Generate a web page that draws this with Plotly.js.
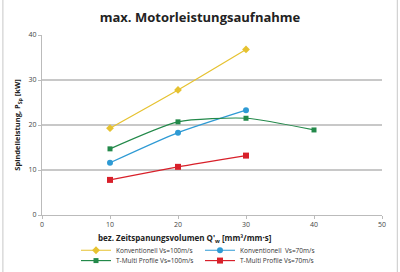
<!DOCTYPE html>
<html>
<head>
<meta charset="utf-8">
<script src="https://cdn.plot.ly/plotly-3.0.1.min.js"></script>
<style>
  html, body { margin: 0; padding: 0; background: #fff; }
  #chart { width: 400px; height: 272px; }
</style>
</head>
<body>
<div id="chart"></div>
<script>
// Specific material removal rate Q'w [mm³/mm·s]
const qw = [10, 20, 30];
const qwTMulti100 = [10, 20, 30, 40];

// Maximum spindle power [kW]
const konv100 = [19.3, 27.8, 36.8];
const konv70 = [11.6, 18.3, 23.3];
const tmulti100 = [14.7, 20.7, 21.5, 18.9];
const tmulti70 = [7.8, 10.7, 13.2];

const names = [
  'Konventionell Vs=100m/s',
  'Konventionell  Vs=70m/s',
  'T-Multi Profile Vs=100m/s',
  'T-Multi Profile Vs=70m/s'
];

const xTicks = [0, 10, 20, 30, 40, 50];
const yTicks = [0, 10, 20, 30, 40];

const font = 'Open Sans, Liberation Sans, sans-serif';

function series(x, y, name, color, symbol, size, legend) {
  return {
    x: x, y: y, name: name, type: 'scatter', mode: 'lines+markers',
    legend: legend,
    line: { color: color, width: 1.2, shape: 'spline', smoothing: 0.6 },
    marker: { color: color, symbol: symbol, size: size }
  };
}

const data = [
  series(qw, konv100, names[0], '#E6C230', 'diamond', 6, 'legend'),
  series(qw, konv70, names[1], '#2E9AD4', 'circle', 6, 'legend'),
  series(qwTMulti100, tmulti100, names[2], '#23894A', 'square', 5, 'legend2'),
  series(qw, tmulti70, names[3], '#D8202A', 'square', 6, 'legend2')
];

function legendRow(y) {
  return {
    orientation: 'h', xref: 'container', yref: 'container',
    x: 0.19, xanchor: 'left', y: y, yanchor: 'middle',
    entrywidth: 79, entrywidthmode: 'pixels', itemwidth: 30,
    font: { size: 6.5, color: '#333' }, bgcolor: 'rgba(0,0,0,0)'
  };
}

const layout = {
  width: 400, height: 272,
  margin: { l: 42, r: 18, t: 35, b: 57 },
  paper_bgcolor: '#fff', plot_bgcolor: '#fff',
  font: { family: font, size: 7, color: '#333' },
  title: {
    text: '<b>max. Motorleistungsaufnahme</b>',
    font: { family: font, size: 13, color: '#222' },
    x: 0.5, xanchor: 'center', y: 0.935, yanchor: 'middle'
  },
  xaxis: {
    range: [0, 50], tickvals: xTicks, ticks: 'outside', ticklen: 3,
    tickcolor: '#bbb', showline: true, linecolor: '#bbb', linewidth: 1,
    showgrid: false, zeroline: false,
    tickfont: { size: 7, color: '#444' }
  },
  yaxis: {
    range: [0, 40], tickvals: yTicks, ticks: 'outside', ticklen: 3,
    tickcolor: '#bbb', showline: true, linecolor: '#bbb', linewidth: 1,
    showgrid: true, gridcolor: '#c8c8c8', gridwidth: 1.2, zeroline: false,
    tickfont: { size: 7, color: '#444' },
    title: {
      text: '<b>Spindelleistung, P<sub>Sp</sub> [kW]</b>',
      font: { size: 7.5, color: '#222' }, standoff: 6
    }
  },
  annotations: [{
    // x-axis title, placed below the tick labels
    text: "<b>bez. Zeitspanungsvolumen Q'<sub>w</sub> [mm³/mm·s]</b>",
    xref: 'paper', yref: 'paper', x: 0.16, xanchor: 'left',
    y: -0.128, yanchor: 'middle', showarrow: false,
    font: { size: 8, color: '#222' }
  }],
  showlegend: true,
  legend: legendRow(0.08),
  legend2: legendRow(0.042),
  shapes: [{
    type: 'rect', xref: 'paper', yref: 'paper',
    x0: -0.115, x1: 1.045, y0: -0.33, y1: 1.2,
    line: { color: '#c8c8c8', width: 1 }
  }]
};

Plotly.newPlot('chart', data, layout, { displayModeBar: false, staticPlot: true });
</script>
</body>
</html>
